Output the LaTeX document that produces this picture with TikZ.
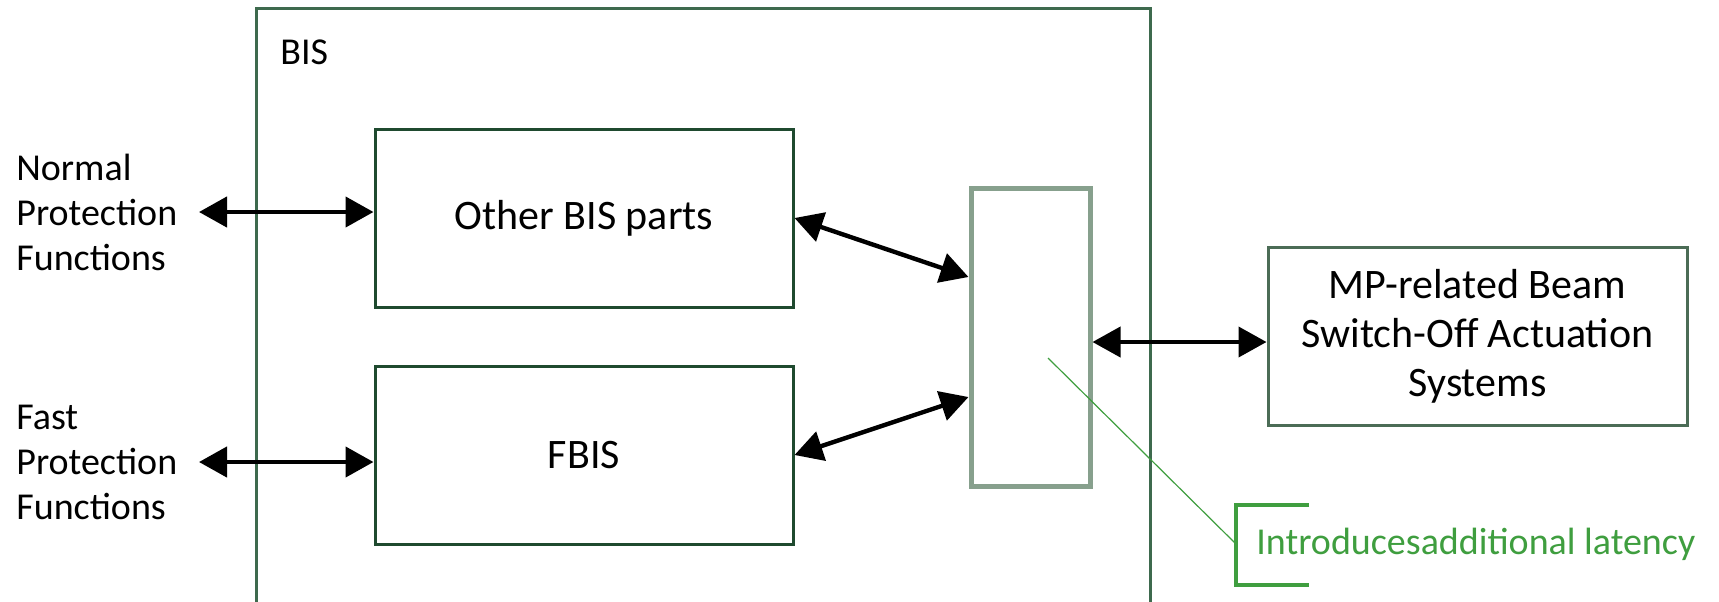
\documentclass[tikz,border=0pt]{standalone}
\usepackage{fontspec}
\setmainfont{Carlito}
\usetikzlibrary{arrows.meta}
\definecolor{boxgreen}{HTML}{1F4A2F}
\definecolor{bisgreen}{HTML}{3E6A4E}
\definecolor{latgreen}{HTML}{87A08D}
\definecolor{mpgreen}{HTML}{4B6C56}
\definecolor{notegreen}{HTML}{3F9E3F}
\tikzset{
  block/.style={draw=boxgreen, line width=1.5pt, minimum width=209pt, minimum height=89pt, inner sep=0pt, font=\fontsize{21}{24.5}\selectfont},
  biarrow/.style={{Triangle[length=14pt,width=15pt]}-{Triangle[length=14pt,width=15pt]}, line width=2.2pt},
  sidelabel/.style={anchor=west, align=left, inner sep=0pt},
}

\begin{document}
\begin{tikzpicture}[x=0.5pt, y=-0.5pt, font=\fontsize{19}{22.5}\selectfont]
\useasboundingbox (0,0) rectangle (1719,601);
\node[draw=bisgreen, line width=1.5pt, minimum width=447pt, minimum height=326pt] (bis) at (703,334) {};
\node[anchor=west, inner sep=0pt] (bislabel) at (280,52) {BIS};
\node[block] (other) at (584,218) {Other BIS parts};
\node[block] (fbis) at (584,455) {FBIS};
\node[draw=latgreen, line width=2.5pt, minimum width=59.5pt, minimum height=149pt] (lat) at (1030.5,337) {};
\node[block, draw=mpgreen, minimum width=209.5pt, align=center] (mp) at (1477.5,336) {MP-related Beam\\Switch-Off Actuation\\Systems};
\node[sidelabel] (normal) at (16,212) {Normal\\Protection\\Functions};
\node[sidelabel] (fast) at (16,462) {Fast\\Protection\\Functions};
\coordinate (normalend) at (199,212);
\coordinate (fastend) at (199,462);
\draw[biarrow] (normalend) -- (normalend -| other.west);
\draw[biarrow] (fastend) -- (fastend -| fbis.west);
\draw[biarrow] (other.east) -- ([yshift=30pt]lat.west);
\draw[biarrow] (fbis.east) -- ([yshift=-30pt]lat.west);
\draw[biarrow, line width=2pt] ([yshift=-2.5pt]lat.east) -- ([yshift=-2.5pt]lat.east -| mp.west);
\coordinate (notetip) at (1048,358);
\coordinate (notemid) at (1236,544);
\node[anchor=west, inner sep=0pt, text=notegreen] (note) at (1256,544) {Introducesadditional latency};
\draw[notegreen, line width=0.6pt] (notetip) -- (notemid);
\draw[notegreen, line width=1.6pt] (1309,505) -- (1236,505) -- (1236,585) -- (1309,585);
\end{tikzpicture}
\end{document}
